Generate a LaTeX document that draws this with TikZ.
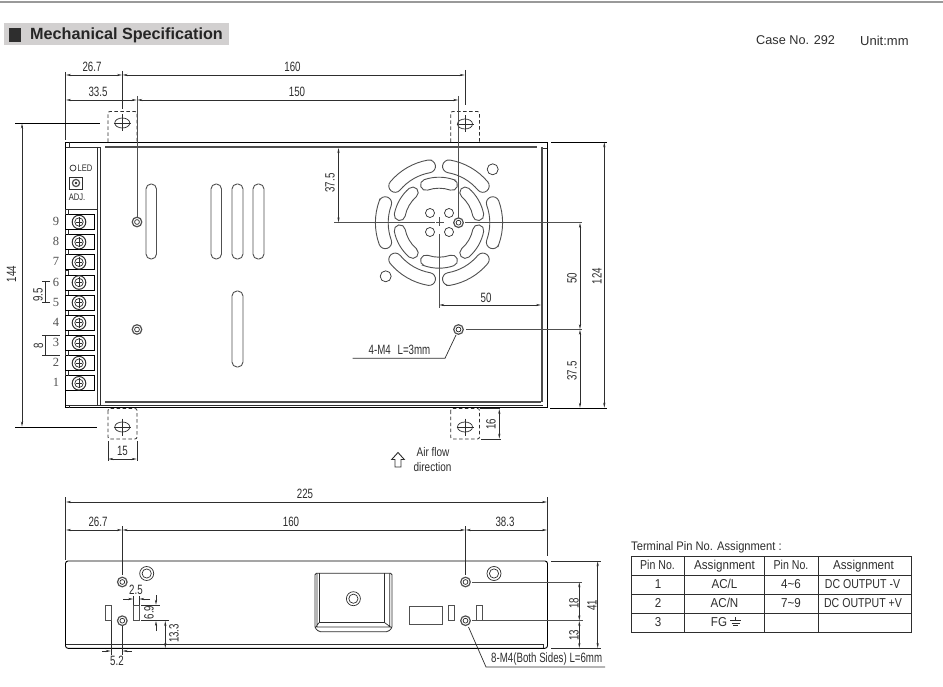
\documentclass[tikz,border=0pt]{standalone}
\usepackage{graphicx}
\usepackage{fontspec}
\setmainfont{Liberation Sans}
\newfontfamily\numfont{Liberation Serif}
\usetikzlibrary{arrows.meta}
\definecolor{ink}{HTML}{2E2E2E}
\definecolor{midgray}{HTML}{505050}
\definecolor{titlebg}{HTML}{D2D0D0}
\newcommand\dm[1]{\scalebox{.72}[1]{\fontsize{13.5}{13.5}\selectfont #1}}
\newcommand\sm[1]{\scalebox{.80}[1]{\fontsize{12.5}{12.5}\selectfont #1}}
\newcommand\mhole[2]{\draw[holeline] (#1,#2) circle[radius=4.8]; \draw[thinline] (#1,#2) circle[radius=2.4];}
\newcommand\bigring[2]{\draw[thinline] (#1,#2) circle[radius=7]; \draw[thinline] (#1,#2) circle[radius=4.6];}
\newcommand\taphole[2]{\draw[thinline] (#1,#2) ellipse[x radius=7.5,y radius=5]; \draw[thinline] (#1-8.5,#2) -- (#1+8.5,#2) (#1,#2-8.5) -- (#1,#2+8.5);}
\newcommand\vslot[4]{\draw[slotline,rounded corners=5pt] (#1,#3) rectangle (#2,#4);}
\newcommand\fanslot[4]{% radius, a1, a2, width
  \pgfmathsetmacro\ro{#1+#4/2}\pgfmathsetmacro\ri{#1-#4/2}\pgfmathsetmacro\rc{#4/2}
  \pgfmathsetmacro\endcap{#3+180}\pgfmathsetmacro\bs{#2+180}\pgfmathsetmacro\be{#2+360}
  \draw[slotline] (#2:\ro) arc[start angle=#2,end angle=#3,radius=\ro]
    arc[start angle=#3,end angle=\endcap,radius=\rc]
    arc[start angle=#3,end angle=#2,radius=\ri]
    arc[start angle=\bs,end angle=\be,radius=\rc] -- cycle;}
\tikzset{
  x=1pt,y=-1pt,
  thinline/.style={draw=ink,line width=.7pt},
  holeline/.style={draw=midgray,line width=1.2pt},
  slotline/.style={draw=midgray,line width=.9pt},
  bodyline/.style={draw=black,line width=.9pt},
  heavyline/.style={draw=ink!85,line width=2pt},
  dimline/.style={draw=ink,line width=.6pt,{Stealth[length=5pt,width=2.2pt]}-{Stealth[length=5pt,width=2.2pt]}},
  extline/.style={draw=ink,line width=.7pt},
  centerline/.style={draw=midgray,line width=.8pt},
  tablab/.style={inner sep=0pt,text=ink,anchor=center},
  cellbox/.style={inner sep=0pt,text=ink,anchor=center,text height=9.5pt,text depth=2.5pt},
  dashtab/.style={draw=ink,line width=.8pt,dash pattern=on 3.5pt off 2.5pt,rounded corners=2pt},
}
\begin{document}
\begin{tikzpicture}
\useasboundingbox (0,0) rectangle (943,687);
\fill[white] (0,0) rectangle (943,687);
% header
\draw[draw=gray!80,line width=1.5pt] (0,2) -- (943,2);
\fill[titlebg] (4,23) rectangle (229,45);
\fill[ink] (9,28) rectangle (21,42);
\node[tablab,anchor=west,text=black!85] (title) at (30,35) {\fontsize{16.2}{16}\selectfont\bfseries Mechanical Specification};
\node[tablab,anchor=west] (caseno) at (756,40.5) {\fontsize{12.7}{12}\selectfont Case No. 292};
\node[tablab,anchor=west] (unitmm) at (860,40.5) {\fontsize{13}{12}\selectfont Unit:mm};

%%%% TOP VIEW
\draw[bodyline] (65.5,142) -- (547,142) -- (547,407.5) -- (65.5,407.5) -- cycle;
\draw[heavyline] (105,147.5) -- (537,147.5) (541.5,147) -- (541.5,402);
\draw[heavyline] (105,402) -- (541,402);
\draw[thinline] (65.5,405) -- (543,405) (543,148) -- (547,148);
\draw[thinline] (65.5,147) -- (100,147) (97,147) -- (97,405) (100,147) -- (100,405);
\draw[thinline] (65.5,209) -- (97,209);
\draw[thinline] (69,142) -- (69,147) (69,405) -- (69,407.5);
% LED panel
\draw[thinline] (73,168) circle[radius=3];
\node[tablab] (led) at (85,168) {\scalebox{.8}[1]{\fontsize{9.5}{9}\selectfont LED}};
\draw[thinline,line width=.9pt] (69.5,177) rectangle (82.5,189.5);
\draw[holeline] (76,183) circle[radius=3.6];
\fill[ink] (76,183) circle[radius=1.4];
\node[tablab] (adj) at (77,197.5) {\scalebox{.8}[1]{\fontsize{9.5}{9}\selectfont ADJ.}};
% terminals
\foreach \n in {1,...,9}{
  \pgfmathsetmacro\ty{383.3-20.16*(\n-1)}
  \draw[bodyline] (65.5,\ty-7.5) rectangle (94,\ty+7.5);
  \draw[thinline] (65.5,\ty-7.5) -- (65.5,\ty-12.5) -- (68,\ty-12.5) -- (68,\ty-7.5);
  \draw[draw=ink,line width=1pt] (79,\ty) circle[radius=6.8];
  \draw[thinline] (79,\ty) circle[radius=4.2];
  \draw[thinline] (79,\ty-5) -- (79,\ty+5) (76,\ty) -- (82,\ty);
  \node[tablab,text=midgray] (pin\n) at (56,\ty-.5) {\numfont\fontsize{12.5}{12}\selectfont \n};
}
% mounting tabs
\draw[dashtab] (108,142) -- (108,111.5) -- (137,111.5) -- (137,142);
\draw[dashtab] (450.7,142) -- (450.7,111.5) -- (479.5,111.5) -- (479.5,142);
\draw[dashtab] (108,408.5) -- (108,439) -- (137,439) -- (137,408.5) -- cycle;
\draw[dashtab] (450.7,408.5) -- (450.7,439) -- (479.5,439) -- (479.5,408.5) -- cycle;
\taphole{122.3}{123}
\taphole{465}{124}
\taphole{122.3}{427}
\taphole{465}{427}
% slots
\vslot{146}{156.5}{184}{259}
\vslot{211}{221.5}{184}{259}
\vslot{232}{243}{184}{259}
\vslot{253}{264}{184}{259}
\vslot{232}{243}{291}{367}
% holes
\mhole{137}{222}
\mhole{137}{329.5}
\mhole{458.5}{222.7}
\mhole{458.5}{329.5}
% fan
\begin{scope}[shift={(439,222.7)},y=1pt,x=1pt]
  \foreach \a in {-20,40,100,160,220,280}{
    \pgfmathsetmacro\b{\a+40}
    \fanslot{57.2}{\a}{\b}{12.8}
  }
  \foreach \a in {11,71,131,191,251,311}{
    \pgfmathsetmacro\b{\a+38}
    \fanslot{40}{\a}{\b}{11}
  }
\end{scope}
\draw[thinline] (430,213) circle[radius=4.5] (449,213) circle[radius=4.5] (430,232) circle[radius=4.5] (449,232) circle[radius=4.5];
\draw[thinline] (492.7,169.3) circle[radius=5.5] (385.7,276.3) circle[radius=5.5];
\draw[centerline] (334,222.7) -- (435,222.7) (436,222.7) -- (444,222.7) (465,222.7) -- (582,222.7);
\draw[centerline] (439,217) -- (439,226) (439,234) -- (439,308);
% top view dimension lines
\draw[extline] (65.5,72) -- (65.5,140);
\draw[extline] (122.3,71) -- (122.3,109);
\draw[centerline] (137,96) -- (137,217);
\draw[extline] (465,70) -- (465,105);
\draw[centerline] (458.5,96) -- (458.5,218);
\draw[dimline] (66,75) -- (122,75);
\draw[dimline] (122.6,75) -- (464.7,75);
\draw[dimline] (66,100) -- (136.7,100);
\draw[dimline] (137.3,100) -- (458.2,100);
\node[tablab] (d267) at (92,67) {\dm{26.7}};
\node[tablab] (d160) at (292.5,67) {\dm{160}};
\node[tablab] (d335) at (98,91.5) {\dm{33.5}};
\node[tablab] (d150) at (297,91.5) {\dm{150}};
% 144
\draw[extline,draw=black] (15,123) -- (100,123);
\draw[extline,draw=black] (15,427) -- (97,427);
\draw[dimline] (22,123.5) -- (22,426.5);
\node[tablab,rotate=90] (d144) at (11.5,274) {\dm{144}};
% 9.5
\draw[extline] (42,281.5) -- (50,281.5) (42,302.5) -- (50,302.5) (45.7,281.5) -- (45.7,302.5);
\node[tablab,rotate=90] (d95) at (38,295) {\dm{9.5}};
% 8
\draw[extline] (42,335) -- (60,335) (42,355.5) -- (60,355.5) (45.7,335) -- (45.7,355.5);
\node[tablab,rotate=90] (d8) at (38.5,345.5) {\dm{8}};
% 15
\draw[extline] (108,441) -- (108,461) (137,441) -- (137,461);
\draw[dimline] (108.3,459) -- (136.7,459);
\node[tablab] (d15) at (122.5,450.5) {\dm{15}};
% 16
\draw[extline] (480,408.5) -- (500,408.5) (481,439) -- (501,439);
\draw[dimline] (499.3,409) -- (499.3,438.7);
\node[tablab,rotate=90] (d16) at (491,424) {\dm{16}};
% 37.5 top
\draw[dimline] (338.5,148) -- (338.5,222.4);
\node[tablab,rotate=90] (d375a) at (330,183) {\dm{37.5}};
% 50 horizontal
\draw[dimline] (439.3,305) -- (541,305);
\node[tablab] (d50h) at (486,298) {\dm{50}};
% right dims
\draw[centerline] (466,329.5) -- (582,329.5);
\draw[dimline] (580,223) -- (580,329.2);
\draw[dimline] (580,329.8) -- (580,407.7);
\node[tablab,rotate=90] (d50v) at (572,278.5) {\dm{50}};
\node[tablab,rotate=90] (d375b) at (572,371) {\dm{37.5}};
\draw[extline,draw=black] (551,142) -- (607,142);
\draw[extline,draw=black] (550,408) -- (607,408);
\draw[dimline] (604.3,142.3) -- (604.3,407.7);
\node[tablab,rotate=90] (d124) at (597,276) {\dm{124}};
% 4-M4
\node[tablab] (m4) at (399.5,349.5) {\dm{4-M4\hspace{.7em}L=3mm}};
\draw[extline] (352.5,358.3) -- (445,358.3) -- (456,335);
% air flow
\draw[draw=ink,line width=.9pt,line join=miter] (398,452.5) -- (404.3,459.5) -- (401,459.5) -- (401,467) -- (395,467) -- (395,459.5) -- (391.7,459.5) -- cycle;
\node[tablab] (air1) at (433,452.5) {\sm{Air flow}};
\node[tablab] (air2) at (432.5,467) {\sm{direction}};

%%%% SIDE VIEW
\draw[bodyline,rounded corners=2.5pt] (65.5,561) -- (547.5,561) -- (547.5,648.3) -- (65.5,648.3) -- cycle;
\draw[thinline] (65.5,644) -- (543.5,644) (543.5,644) -- (543.5,648);
\mhole{122.3}{582}
\mhole{122.3}{620.7}
\mhole{465.5}{582}
\mhole{465.5}{620.7}
\bigring{146.7}{573.5}
\bigring{494}{573.5}
\bigring{353.4}{598.7}
% bracket
\draw[draw=ink,line width=.8pt,rounded corners=1.5pt] (315,573.3) -- (392,573.3) -- (392,628) -- (388,631.7) -- (319,631.7) -- (315,628) -- cycle;
\draw[thinline] (319,573.3) -- (319,622.7) -- (384.7,622.7) -- (384.7,573.3);
\draw[thinline] (389.7,573.3) -- (389.7,627) -- (317,627) -- (317,573.3) (315,628) -- (319,622.7) (392,628) -- (384.7,622.7);
% small rectangles
\draw[slotline] (105.3,605) rectangle (111.7,620.7);
\draw[slotline] (133.3,605) rectangle (139.3,620.7);
\draw[slotline] (409.3,606.7) rectangle (442,624.5);
\draw[slotline] (448.3,605) rectangle (454.3,620.7);
\draw[slotline] (476,605) rectangle (482.3,620.7);
% side dims
\draw[extline] (65.5,497) -- (65.5,560);
\draw[extline] (547.5,497) -- (547.5,556);
\draw[dimline] (66,502) -- (547,502);
\node[tablab] (d225) at (305,494) {\dm{225}};
\draw[extline] (122.3,526) -- (122.3,575);
\draw[extline] (465.5,526) -- (465.5,575);
\draw[dimline] (66,530) -- (122,530);
\draw[dimline] (122.6,530) -- (465.2,530);
\draw[dimline] (465.8,530) -- (547,530);
\node[tablab] (e267) at (98,522) {\dm{26.7}};
\node[tablab] (e160) at (291,522) {\dm{160}};
\node[tablab] (e383) at (505,522) {\dm{38.3}};
% 2.5
\node[tablab] (d25) at (136,590) {\dm{2.5}};
\draw[extline] (133.5,596) -- (133.5,605) (139,596) -- (139,605);
\draw[draw=ink,line width=.6pt,-{Stealth[length=5pt,width=2.2pt]}] (123,599) -- (133.2,599);
\draw[draw=ink,line width=.6pt,-{Stealth[length=5pt,width=2.2pt]}] (150,599) -- (139.3,599);
% 6.9
\draw[extline] (141,605) -- (160,605) (141,620.7) -- (169,620.7);
\draw[draw=ink,line width=.6pt,-{Stealth[length=5pt,width=2.2pt]}] (156,595) -- (156,604.7);
\draw[draw=ink,line width=.6pt,-{Stealth[length=5pt,width=2.2pt]}] (156,631) -- (156,621);
\node[tablab,rotate=90] (d69) at (149,612.5) {\dm{6.9}};
% 13.3
\draw[dimline] (165.3,621) -- (165.3,648);
\node[tablab,rotate=90] (d133) at (174,633.5) {\dm{13.3}};
% 5.2
\draw[extline] (111,621) -- (111,655) (122.3,626) -- (122.3,655);
\draw[draw=ink,line width=.6pt,-{Stealth[length=5pt,width=2.2pt]}] (102,651) -- (110.7,651);
\draw[draw=ink,line width=.6pt,-{Stealth[length=5pt,width=2.2pt]}] (131.7,651) -- (122.6,651);
\node[tablab] (d52) at (117,661) {\dm{5.2}};
% right side dims
\draw[centerline] (472,582) -- (582,582);
\draw[centerline] (472,620.7) -- (583,620.7);
\draw[dimline] (579.3,582.3) -- (579.3,620.4);
\draw[dimline] (579.3,621) -- (579.3,648);
\node[tablab,rotate=90] (d18) at (574,603) {\dm{18}};
\node[tablab,rotate=90] (d13) at (574,635) {\dm{13}};
\draw[extline] (551,561) -- (601,561) (551,648.3) -- (601,648.3);
\draw[dimline] (597.7,561.3) -- (597.7,648);
\node[tablab,rotate=90] (d41) at (592,605) {\dm{41}};
% 8-M4
\node[tablab] (m8) at (546.7,659) {\dm{8-M4(Both Sides) L=6mm}};
\draw[extline] (605,667) -- (486,667) -- (468.5,627);

%%%% TABLE
\node[tablab,anchor=west] (tabtitle) at (631,547) {\scalebox{.9}[1]{\fontsize{12.4}{12}\selectfont Terminal Pin No. Assignment :}};
\draw[draw=ink,line width=.9pt] (631,556.7) rectangle (911.7,632);
\draw[draw=ink,line width=.8pt] (631,575.7) -- (911.7,575.7) (631,594.5) -- (911.7,594.5) (631,613.3) -- (911.7,613.3);
\draw[draw=ink,line width=.8pt] (684.3,556.7) -- (684.3,632) (764.5,556.7) -- (764.5,632) (818,556.7) -- (818,632);
\newcommand\cellt[1]{\scalebox{.9}[1]{\fontsize{12.9}{12}\selectfont #1}}
\newcommand\cellp[1]{\scalebox{.82}[1]{\fontsize{12.9}{12}\selectfont #1}}
\node[cellbox] (h1) at (657.5,566.2) {\cellp{Pin No.}};
\node[cellbox] (h2) at (724.5,566.2) {\cellt{Assignment}};
\node[cellbox] (h3) at (791,566.2) {\cellp{Pin No.}};
\node[cellbox] (h4) at (863.5,566.2) {\cellt{Assignment}};
\node[cellbox] (a1) at (658,585) {\cellt{1}};
\node[cellbox] (a2) at (724.5,585) {\cellt{AC/L}};
\node[cellbox] (a3) at (791,585) {\cellt{4\textasciitilde 6}};
\node[cellbox] (a4) at (862.5,585) {\cellp{DC OUTPUT -V}};
\node[cellbox] (b1) at (658,603.8) {\cellt{2}};
\node[cellbox] (b2) at (724.5,603.8) {\cellt{AC/N}};
\node[cellbox] (b3) at (791,603.8) {\cellt{7\textasciitilde 9}};
\node[cellbox] (b4) at (863,603.8) {\cellp{DC OUTPUT +V}};
\node[cellbox] (c1) at (658,622.6) {\cellt{3}};
\node[cellbox] (c2) at (719,622.6) {\cellt{FG}};
\draw[draw=ink,line width=.6pt] (735.5,617) -- (735.5,620.5) (730,620.5) -- (741,620.5) (731.5,623) -- (739.5,623) (733,625.5) -- (738,625.5);
\end{tikzpicture}
\end{document}
